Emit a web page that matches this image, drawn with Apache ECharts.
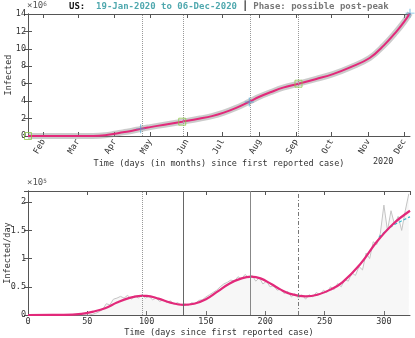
<!DOCTYPE html>
<html>
<head>
<meta charset="utf-8">
<script src="https://cdn.jsdelivr.net/npm/echarts@6/dist/echarts.min.js"></script>
<style>
  html, body { margin: 0; padding: 0; background: #fff; }
  #chart { width: 415px; height: 338px; }
</style>
</head>
<body>
<div id="chart"></div>
<script>
// cumulative infected (x10^6), by day since 19-Jan-2020
const cumDays = [0, 40, 55, 65, 73, 80, 88, 95, 103, 115, 130, 145, 155, 165, 175, 186, 195, 205, 215, 228, 243, 257, 272, 288, 300, 310, 317, 322]
const cumVals = [0, 0, 0.005, 0.08, 0.25, 0.42, 0.6, 0.82, 1.02, 1.3, 1.64, 2.0, 2.28, 2.68, 3.2, 3.9, 4.5, 5.05, 5.55, 6.0, 6.55, 7.1, 7.9, 8.95, 10.4, 11.9, 13.1, 14.1]

// month ticks for the upper panel (day of the 1st of each month)
const monthDays = [13, 42, 73, 103, 134, 164, 195, 226, 256, 287, 317]
const monthNames = ['Feb', 'Mar', 'Apr', 'May', 'Jun', 'Jul', 'Aug', 'Sep', 'Oct', 'Nov', 'Dec']

// markers on the cumulative curve
const squareDays = [0, 130, 228]
const squareVals = [0, 1.64, 6.0]
const plusDays = [95, 186.5, 322]
const plusVals = [0.82, 3.9, 14.1]

// phase lines (days)
const phaseDays = [96, 131, 187, 228]

// daily infected (x10^5), raw reports, every 3 days
const dailyDays = []
for (let d = 0; d <= 321; d += 3) dailyDays.push(d)
const dailyVals = [
  0, 0, 0, 0, 0, 0, 0, 0, 0, 0, 0, 0, 0, 0, 0, 0, 0, 0,
  0.01, 0.03, 0.06, 0.1, 0.2, 0.18, 0.28, 0.3, 0.33, 0.3, 0.35, 0.28, 0.34, 0.3, 0.36, 0.3,
  0.33, 0.27, 0.3, 0.24, 0.27, 0.22, 0.25, 0.19, 0.22, 0.18, 0.2, 0.17, 0.22, 0.2, 0.26, 0.27,
  0.32, 0.36, 0.4, 0.44, 0.5, 0.55, 0.58, 0.62, 0.6, 0.68, 0.64, 0.72, 0.66, 0.7, 0.6, 0.66,
  0.55, 0.6, 0.5, 0.52, 0.44, 0.46, 0.38, 0.42, 0.32, 0.38, 0.3, 0.36, 0.28, 0.36, 0.32, 0.4,
  0.36, 0.44, 0.4, 0.5, 0.45, 0.56, 0.5, 0.63, 0.6, 0.75, 0.7, 0.86, 0.8, 1.1, 1.0, 1.3,
  1.25, 1.45, 1.95, 1.5, 1.85, 1.6, 1.75, 1.5, 1.85, 2.15
]

// smoothed daily fit (x10^5)
const fitDays = [0, 30, 45, 55, 65, 75, 85, 95, 100, 110, 120, 131, 140, 150, 160, 170, 180, 188, 196, 205, 213, 222, 234, 244, 255, 265, 280, 294, 308, 322]
const fitVals = [0, 0.002, 0.02, 0.06, 0.12, 0.22, 0.3, 0.34, 0.34, 0.29, 0.22, 0.18, 0.2, 0.28, 0.42, 0.56, 0.65, 0.68, 0.65, 0.55, 0.45, 0.37, 0.33, 0.36, 0.45, 0.58, 0.9, 1.3, 1.62, 1.85]

// short forecast tail (dashed cyan)
const tailDays = [296, 305, 314, 322]
const tailVals = [1.38, 1.55, 1.66, 1.74]

const zip = (xs, ys) => xs.map((x, i) => [x, ys[i]])

const font = 'DejaVu Sans Mono'
const frame = '#555'
const txt = '#333'

const chart = echarts.init(document.getElementById('chart'))

const axisBase = {
  type: 'value',
  min: 0,
  max: 322,
  nameMoveOverlap: false,
  axisLine: { show: true, onZero: false, lineStyle: { color: frame } },
  splitLine: { show: false }
}

const option = {
  animation: false,
  textStyle: { fontFamily: font },
  title: {
    left: 64,
    top: -3,
    text: '{us|US:  }{d|19-Jan-2020 to 06-Dec-2020 }{bar|┃ }{ph|Phase: possible post-peak}',
    textStyle: {
      fontFamily: font,
      fontSize: 9,
      rich: {
        us: { fontFamily: font, fontSize: 9, fontWeight: 'bold', color: '#111' },
        d: { fontFamily: font, fontSize: 9, color: '#4fa8ae' },
        bar: { fontFamily: font, fontSize: 9, color: '#555' },
        ph: { fontFamily: font, fontSize: 9, color: '#777' }
      }
    }
  },
  graphic: [
    {
      type: 'text', left: 27, top: 1,
      style: { text: '×10{s|6}', fontFamily: font, fontSize: 9, fill: '#555',
        rich: { s: { fontSize: 6, verticalAlign: 'top', fill: '#555', fontFamily: font } } }
    },
    {
      type: 'text', left: 27, top: 178,
      style: { text: '×10{s|5}', fontFamily: font, fontSize: 9, fill: '#555',
        rich: { s: { fontSize: 6, verticalAlign: 'top', fill: '#555', fontFamily: font } } }
    },
    {
      type: 'text', left: 373, top: 157,
      style: { text: '2020', fontFamily: font, fontSize: 8.5, fill: txt }
    }
  ],
  grid: [
    { left: 28, right: 5, top: 14, height: 122, outerBoundsMode: 'none' },
    { left: 28, right: 5, top: 191, height: 124, outerBoundsMode: 'none' }
  ],
  xAxis: [
    Object.assign({}, axisBase, {
      gridIndex: 0,
      position: 'bottom',
      name: 'Time (days (in months) since first reported case)',
      nameLocation: 'middle',
      nameGap: 23,
      nameTextStyle: { fontFamily: font, fontSize: 8.5, color: txt },
      axisTick: { inside: true, length: 4, lineStyle: { color: frame }, customValues: monthDays },
      axisLabel: {
        customValues: monthDays, rotate: 60, margin: 4,
        fontFamily: font, fontSize: 8.5, color: txt,
        formatter: v => monthNames[monthDays.indexOf(v)] || ''
      }
    }),
    Object.assign({}, axisBase, {
      gridIndex: 0,
      position: 'top',
      axisTick: { inside: true, length: 4, lineStyle: { color: frame }, customValues: monthDays },
      axisLabel: { show: false }
    }),
    Object.assign({}, axisBase, {
      gridIndex: 1,
      position: 'bottom',
      interval: 50,
      name: 'Time (days since first reported case)',
      nameLocation: 'middle',
      nameGap: 13,
      nameTextStyle: { fontFamily: font, fontSize: 8.5, color: txt },
      axisTick: { inside: true, length: 4, lineStyle: { color: frame } },
      axisLabel: { fontFamily: font, fontSize: 8.5, color: txt, margin: 2,
        showMaxLabel: false }
    }),
    Object.assign({}, axisBase, {
      gridIndex: 1,
      position: 'top',
      interval: 50,
      axisTick: { inside: true, length: 4, lineStyle: { color: frame } },
      axisLabel: { show: false }
    })
  ],
  yAxis: [
    {
      type: 'value', gridIndex: 0, position: 'left', min: 0, max: 14, interval: 2,
      name: 'Infected', nameLocation: 'middle', nameGap: 15, nameRotate: 90, nameMoveOverlap: false,
      nameTextStyle: { fontFamily: font, fontSize: 8.5, color: txt },
      axisLine: { show: true, lineStyle: { color: frame } },
      axisTick: { inside: true, length: 4, lineStyle: { color: frame } },
      axisLabel: { fontFamily: font, fontSize: 8.5, color: txt, margin: 2 },
      splitLine: { show: false }
    },
    {
      type: 'value', gridIndex: 0, position: 'right', min: 0, max: 14, interval: 2,
      axisLine: { show: true, lineStyle: { color: frame } },
      axisTick: { inside: true, length: 4, lineStyle: { color: frame } },
      axisLabel: { show: false },
      splitLine: { show: false }
    },
    {
      type: 'value', gridIndex: 1, position: 'left', min: 0, max: 2.2, interval: 0.5,
      name: 'Infected/day', nameLocation: 'middle', nameGap: 16, nameRotate: 90, nameMoveOverlap: false,
      nameTextStyle: { fontFamily: font, fontSize: 8.5, color: txt },
      axisLine: { show: true, lineStyle: { color: frame } },
      axisTick: { inside: true, length: 4, lineStyle: { color: frame } },
      axisLabel: { fontFamily: font, fontSize: 8.5, color: txt, margin: 2, showMaxLabel: false },
      splitLine: { show: false }
    },
    {
      type: 'value', gridIndex: 1, position: 'right', min: 0, max: 2.2, interval: 0.5,
      axisLine: { show: true, lineStyle: { color: frame } },
      axisTick: { inside: true, length: 4, lineStyle: { color: frame } },
      axisLabel: { show: false },
      splitLine: { show: false }
    }
  ],
  series: [
    // ---- upper panel ----
    {
      type: 'line', xAxisIndex: 0, yAxisIndex: 0,
      data: zip(cumDays, cumVals), smooth: 0.4, symbol: 'none',
      lineStyle: { color: 'rgba(140,140,140,0.45)', width: 6 },
      markLine: {
        silent: true, symbol: 'none', label: { show: false },
        lineStyle: { color: '#999', type: 'dotted', width: 1 },
        data: phaseDays.map(d => ({ xAxis: d }))
      },
      z: 1
    },
    {
      type: 'line', xAxisIndex: 0, yAxisIndex: 0,
      data: zip(cumDays, cumVals), smooth: 0.4, symbol: 'none',
      lineStyle: { color: '#e2297a', width: 2 },
      z: 3
    },
    {
      type: 'scatter', xAxisIndex: 0, yAxisIndex: 0,
      data: zip(squareDays, squareVals), symbol: 'rect', symbolSize: 7,
      itemStyle: { color: 'rgba(0,0,0,0)', borderColor: '#8cc84b', borderWidth: 1 },
      clip: false, z: 5
    },
    {
      type: 'scatter', xAxisIndex: 0, yAxisIndex: 0,
      data: zip(plusDays, plusVals),
      symbol: 'path://M-0.5,-5h1v4.5h4.5v1h-4.5v4.5h-1v-4.5h-4.5v-1h4.5z', symbolSize: 9,
      itemStyle: { color: '#4aa8d8' },
      clip: false, z: 5
    },
    // ---- lower panel ----
    {
      type: 'line', xAxisIndex: 2, yAxisIndex: 2,
      data: zip(dailyDays, dailyVals), symbol: 'none',
      lineStyle: { color: '#c4c4c4', width: 1 },
      areaStyle: { color: 'rgba(215,215,215,0.3)' },
      markLine: {
        silent: true, symbol: 'none', label: { show: false },
        data: [
          { xAxis: phaseDays[0], lineStyle: { color: '#999', type: 'dotted', width: 1 } },
          { xAxis: phaseDays[1], lineStyle: { color: '#666', type: 'solid', width: 1 } },
          { xAxis: phaseDays[2], lineStyle: { color: '#888', type: 'solid', width: 1 } },
          { xAxis: phaseDays[3], lineStyle: { color: '#777', type: [4, 2, 1, 2], width: 1 } }
        ]
      },
      z: 1
    },
    {
      type: 'line', xAxisIndex: 2, yAxisIndex: 2,
      data: zip(tailDays, tailVals), symbol: 'none', smooth: true,
      lineStyle: { color: '#3bbcd0', width: 1.2, type: [3, 2] },
      z: 2
    },
    {
      type: 'line', xAxisIndex: 2, yAxisIndex: 2,
      data: zip(fitDays, fitVals), smooth: 0.4, symbol: 'none',
      lineStyle: { color: '#e2297a', width: 2.2 },
      z: 3
    }
  ]
}

chart.setOption(option)
</script>
</body>
</html>
